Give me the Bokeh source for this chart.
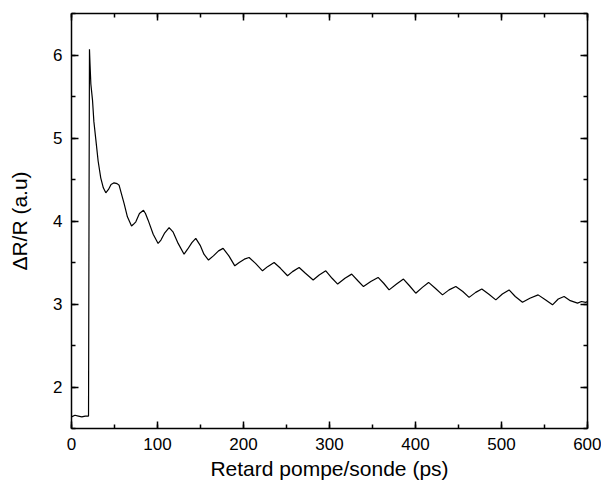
from bokeh.plotting import figure
from bokeh.models import LinearAxis, Range1d, SingleIntervalTicker
from bokeh.embed import file_html
from bokeh.resources import INLINE

# Data (delay in ps, dR/R in a.u.)
delay_ps = [0, 4, 8, 12, 16, 19.8, 20.4, 20.9, 21.5, 22.5, 24.4, 26, 28.3, 31, 34, 37, 39.9,
            43, 46, 49.5, 53, 55.4, 58, 61.2, 65, 69.8, 72, 74.8, 79, 83.7, 86, 89.1, 95,
            100.7, 104, 108, 113.5, 118, 124, 130.9, 135, 140, 144.5, 150, 154, 159.3, 165,
            171, 176.3, 183, 189.9, 195, 201, 206.5, 214, 222.1, 228, 235.6, 243, 251.2, 257,
            264.7, 272, 281, 288, 295.7, 303, 309.5, 318, 325.8, 333, 339.5, 348, 356.5, 363,
            369.3, 378, 386, 393, 400.3, 408, 415.2, 423, 431.4, 439, 446.9, 455, 462.3, 470,
            477.1, 485, 493.4, 501, 508.8, 516, 524.4, 533, 542.6, 551, 559.3, 566, 572.8, 580,
            588.4, 593, 598, 600]
dr_over_r = [1.64, 1.66, 1.65, 1.64, 1.65, 1.65, 4.20, 6.07, 5.90, 5.65, 5.46, 5.20, 4.98, 4.72,
             4.52, 4.40, 4.34, 4.38, 4.44, 4.46, 4.45, 4.43, 4.33, 4.21, 4.05, 3.94, 3.96, 3.99,
             4.09, 4.13, 4.09, 4.01, 3.84, 3.73, 3.77, 3.85, 3.92, 3.87, 3.73, 3.60, 3.66, 3.74,
             3.79, 3.70, 3.60, 3.53, 3.58, 3.64, 3.67, 3.58, 3.46, 3.50, 3.54, 3.56, 3.49, 3.40,
             3.45, 3.50, 3.43, 3.34, 3.39, 3.44, 3.37, 3.29, 3.35, 3.40, 3.31, 3.24, 3.31, 3.36,
             3.28, 3.21, 3.27, 3.32, 3.25, 3.17, 3.24, 3.30, 3.22, 3.13, 3.20, 3.26, 3.19, 3.11,
             3.17, 3.21, 3.15, 3.08, 3.14, 3.18, 3.12, 3.05, 3.12, 3.17, 3.09, 3.02, 3.07, 3.11,
             3.05, 2.99, 3.06, 3.09, 3.04, 3.01, 3.03, 3.02, 3.03]

x_ticks = [0, 100, 200, 300, 400, 500, 600]
y_ticks = [2, 3, 4, 5, 6]

x_label = "Retard pompe/sonde (ps)"
y_label = "ΔR/R (a.u)"

FONT = "Liberation Sans"

p = figure(frame_width=516, frame_height=415, output_backend="svg", toolbar_location=None,
           x_range=Range1d(0, 600), y_range=Range1d(1.5, 6.5),
           min_border_left=71, min_border_right=14, min_border_top=13, min_border_bottom=10,
           x_axis_label=x_label, y_axis_label=y_label)
p.grid.visible = False
p.outline_line_color = None
p.background_fill_color = "white"
p.border_fill_color = "white"

p.line(delay_ps, dr_over_r, line_color="black", line_width=1.2)

p.xaxis.ticker = SingleIntervalTicker(interval=100, num_minor_ticks=2)
p.yaxis.ticker = SingleIntervalTicker(interval=1, num_minor_ticks=2)

def style(ax):
    ax.axis_line_color = "black"
    ax.axis_line_width = 1.5
    ax.major_tick_line_color = "black"
    ax.minor_tick_line_color = "black"
    ax.major_tick_line_width = 1.5
    ax.minor_tick_line_width = 1.5
    ax.major_tick_in = 7
    ax.major_tick_out = 0
    ax.minor_tick_in = 4
    ax.minor_tick_out = 0
    ax.major_label_text_font = FONT
    ax.major_label_text_font_size = "17px"
    ax.major_label_text_color = "black"
    ax.axis_label_text_font = FONT
    ax.axis_label_text_font_size = "21px"
    ax.axis_label_text_font_style = "normal"
    ax.axis_label_text_color = "black"

for ax in p.xaxis:
    style(ax)
    ax.major_label_standoff = 9
    ax.axis_label_standoff = 4
for ax in p.yaxis:
    style(ax)
    ax.major_label_standoff = 9
    ax.axis_label_standoff = 19

top = LinearAxis(ticker=SingleIntervalTicker(interval=100, num_minor_ticks=2))
style(top)
top.major_label_overrides = {t: "" for t in x_ticks}
top.major_label_standoff = 0
p.add_layout(top, "above")
right = LinearAxis(ticker=SingleIntervalTicker(interval=1, num_minor_ticks=2))
style(right)
right.major_label_overrides = {t: "" for t in y_ticks}
right.major_label_standoff = 0
p.add_layout(right, "right")

open("out.html", "w").write(file_html(p, INLINE))
